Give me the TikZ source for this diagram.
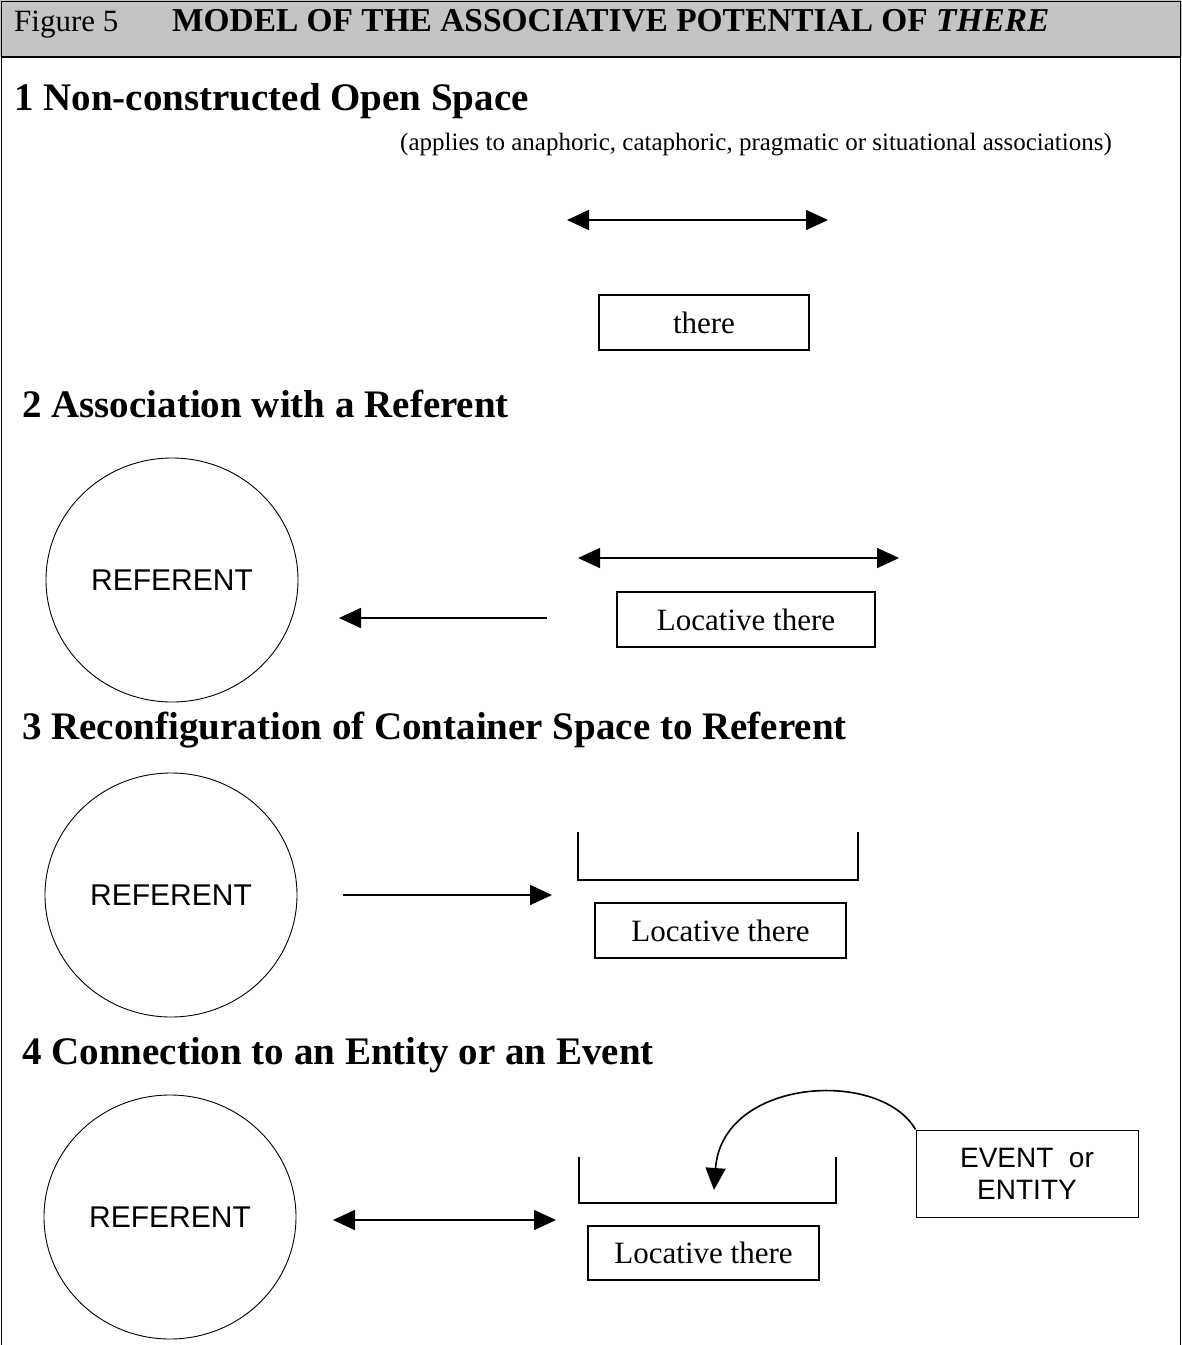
\documentclass[tikz,border=0pt]{standalone}
\usepackage{fontspec}
\setmainfont{Liberation Serif}
\newfontfamily\arialfont{Liberation Sans}
\usepackage{tikz}
\usetikzlibrary{shapes.geometric, arrows.meta, positioning, calc}
\definecolor{headgray}{RGB}{196, 196, 196}

\begin{document}
\begin{tikzpicture}[
    x=1pt, y=-1pt,
    heading/.style={anchor=base west, inner sep=0pt, font=\fontsize{39}{43}\selectfont\bfseries},
    locbox/.style={rectangle, draw, line width=1.4pt, inner sep=0pt,
                font=\fontsize{31}{35}\selectfont},
    refcirc/.style={ellipse, draw, line width=0.9pt, minimum width=252pt, minimum height=244pt,
                font=\arialfont\fontsize{30}{34}\selectfont},
    bracket/.style={line width=1.6pt},
    arrow/.style={-{Triangle[length=22pt, width=20pt]}, line width=1.6pt},
    dblarrow/.style={{Triangle[length=22pt, width=20pt]}-{Triangle[length=22pt, width=20pt]}, line width=1.6pt}
]
\useasboundingbox (0,0) rectangle (1182,1345);

% frame and title band
\fill[headgray] (0,0) rectangle (1182,57);
\draw[line width=0.8pt] (1,1345) -- (1,1) -- (1180,1) -- (1180,1345);
\draw[line width=1.2pt] (1,57) -- (1180,57);
\node[anchor=base west, inner sep=0pt, font=\fontsize{31}{34}\selectfont] (fig) at (14,31) {Figure 5};
\node[anchor=base west, inner sep=0pt, font=\fontsize{33.4}{36}\selectfont\bfseries] (title) at (172,31)
    {MODEL OF THE ASSOCIATIVE POTENTIAL OF \textit{THERE}};

% 1
\node[heading] (h1) at (14,110) {1 Non-constructed Open Space};
\node[anchor=base east, inner sep=0pt, font=\fontsize{25}{28}\selectfont] (note) at (1112,150)
    {(applies to anaphoric, cataphoric, pragmatic or situational associations)};
\coordinate (o1l) at (567,220);
\coordinate (o1r) at (828,220);
\draw[dblarrow] (o1l) -- (o1r);
\node[locbox, minimum width=210pt, minimum height=55pt] (there1) at (704,322.5) {there};

% 2
\node[heading] (h2) at (22,417) {2 Association with a Referent};
\node[refcirc] (ref2) at (172,580) {REFERENT};
\coordinate (o2l) at (578,558);
\coordinate (o2r) at (899,558);
\draw[dblarrow] (o2l) -- (o2r);
\coordinate (p2s) at (547,618);
\coordinate (p2e) at (339,618);
\draw[arrow] (p2s) -- (p2e);
\node[locbox, minimum width=258pt, minimum height=55pt] (loc2) at (746,619.5) {Locative there};

% 3
\node[heading] (h3) at (22,739) {3 Reconfiguration of Container Space to Referent};
\node[refcirc] (ref3) at (171,895) {REFERENT};
\coordinate (p3s) at (343,895);
\coordinate (p3e) at (552,895);
\draw[arrow] (p3s) -- (p3e);
\draw[bracket] (578,832) |- (858,880) -- (858,832);
\node[locbox, minimum width=251pt, minimum height=55pt] (loc3) at (720.5,930.5) {Locative there};

% 4
\node[heading] (h4) at (22,1064) {4 Connection to an Entity or an Event};
\node[refcirc] (ref4) at (170,1217) {REFERENT};
\coordinate (p4l) at (333,1220);
\coordinate (p4r) at (556,1220);
\draw[dblarrow] (p4l) -- (p4r);
\draw[bracket] (579,1157) |- (836,1203) -- (836,1157);
\node[locbox, minimum width=231pt, minimum height=54pt] (loc4) at (703.5,1253) {Locative there};
\node[locbox, line width=0.9pt, minimum width=222pt, minimum height=87pt, align=center,
      font=\arialfont\fontsize{28}{32}\selectfont] (event) at (1027,1173.5) {EVENT\ \ or\\ENTITY};
\coordinate (tip) at (714,1190);
\draw[arrow] (event.north west) .. controls (880,1068) and (722,1078) .. (tip);
\end{tikzpicture}
\end{document}
